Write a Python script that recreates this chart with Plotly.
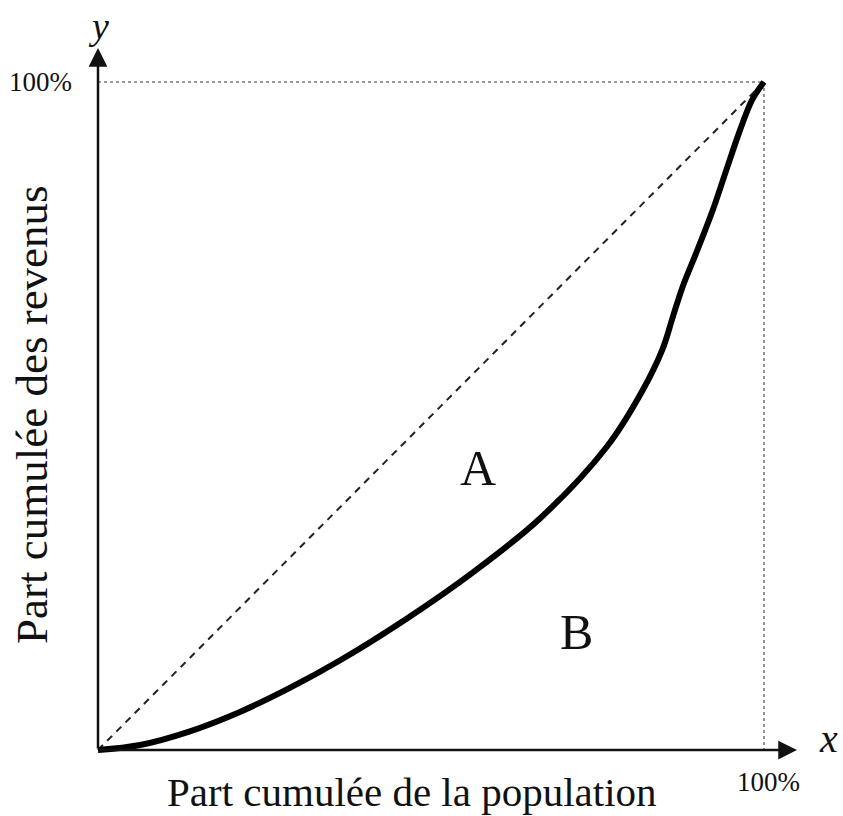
import plotly.graph_objects as go

# Lorenz curve (cumulative population share vs cumulative income share)
pop_share = [0.0, 0.063, 0.138, 0.213, 0.288, 0.363, 0.464, 0.563, 0.664, 0.764, 0.818,
             0.848, 0.863, 0.878, 0.899, 0.923, 0.941, 0.964, 0.982, 1.0]
income_share = [0.0, 0.0075, 0.028, 0.057, 0.093, 0.134, 0.197, 0.266, 0.347, 0.454, 0.539,
                0.601, 0.648, 0.694, 0.746, 0.808, 0.861, 0.928, 0.973, 1.0]
equality_x = [0.0, 1.0]
equality_y = [0.0, 1.0]
tick_label = "100%"
x_title = "Part cumulée de la population"
y_title = "Part cumulée des revenus"
area_labels = ["A", "B"]
area_x = [0.571, 0.718]
area_y = [0.422, 0.177]

W, H = 843, 816
L, R, T, B = 80, 815, 30, 765
X0, XS = 98, 666
Y0, YS = 750, 668
xr = [(L - X0) / XS, (R - X0) / XS]
yr = [(Y0 - B) / YS, (Y0 - T) / YS]


def px(x):
    return (x - L) / (R - L)


def py(y):
    return (B - y) / (B - T)


FONT = "Liberation Serif, Times New Roman, serif"
INK = "#111111"

fig = go.Figure()

# dotted guide lines at 100%
fig.add_trace(go.Scatter(x=[0, 1, 1], y=[1, 1, 0], mode="lines",
                         line=dict(color="#777777", width=1.6, dash="dot"),
                         hoverinfo="skip", showlegend=False))
# equality line
fig.add_trace(go.Scatter(x=equality_x, y=equality_y, mode="lines",
                         line=dict(color="#222222", width=2, dash="7px,6px"),
                         hoverinfo="skip", showlegend=False))
# Lorenz curve
fig.add_trace(go.Scatter(x=pop_share, y=income_share, mode="lines",
                         line=dict(color="black", width=6, shape="spline", smoothing=1.0),
                         hoverinfo="skip", showlegend=False))

annotations = []
# axes with arrows
annotations.append(dict(x=1.0495, y=0, ax=0, ay=0, xref="x", yref="y", axref="x", ayref="y",
                        showarrow=True, arrowhead=2, arrowsize=1.5, arrowwidth=2.5,
                        arrowcolor="#111111", text=""))
annotations.append(dict(x=0, y=1.051, ax=0, ay=0, xref="x", yref="y", axref="x", ayref="y",
                        showarrow=True, arrowhead=2, arrowsize=1.5, arrowwidth=2.5,
                        arrowcolor="#111111", text=""))

for t, xx, yy in zip(area_labels, area_x, area_y):
    annotations.append(dict(x=xx, y=yy, xref="x", yref="y", text=t, showarrow=False,
                            xanchor="center", yanchor="middle",
                            font=dict(family=FONT, size=50, color=INK)))


def text_ann(x, y, text, size, angle=0):
    return dict(x=px(x), y=py(y), xref="paper", yref="paper", text=text, showarrow=False,
                xanchor="center", yanchor="middle", textangle=angle,
                font=dict(family=FONT, size=size, color=INK))


annotations += [
    text_ann(40, 82, tick_label, 27),
    text_ann(768, 782, tick_label, 27),
    text_ann(412, 792, x_title, 41),
    text_ann(32, 415, y_title, 45, -90),
    text_ann(828, 738, "<i>x</i>", 40),
    text_ann(98, 26, "<i>y</i>", 38),
]

fig.update_layout(
    width=W, height=H,
    margin=dict(l=L, r=W - R, t=T, b=H - B),
    paper_bgcolor="white", plot_bgcolor="white",
    xaxis=dict(range=xr, showgrid=False, zeroline=False, showticklabels=False,
               showline=False, ticks="", fixedrange=True),
    yaxis=dict(range=yr, showgrid=False, zeroline=False, showticklabels=False,
               showline=False, ticks="", fixedrange=True),
    annotations=annotations,
    showlegend=False,
)

fig.write_html("out.html",
               config={"displayModeBar": False, "staticPlot": True},
               post_script="document.body.style.margin='0';document.body.style.overflow='hidden';")
